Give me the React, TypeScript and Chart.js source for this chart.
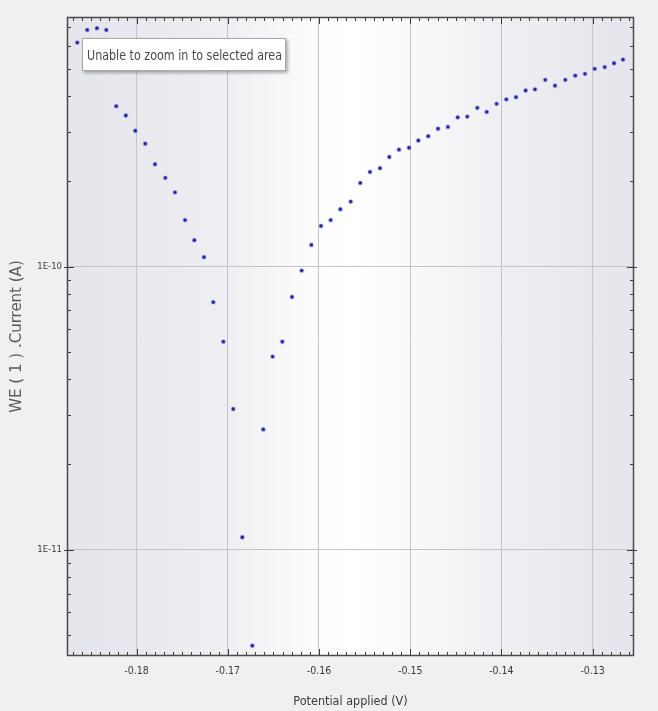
import { useEffect, useRef } from "react";
import { Chart, registerables } from "chart.js";

Chart.register(...registerables);

// Potential applied (V)
const potentialV = [
  -0.1865, -0.18541, -0.18434, -0.18332, -0.18223, -0.18118, -0.18014, -0.17905,
  -0.17798, -0.17685, -0.17579, -0.17469, -0.17367, -0.17261, -0.17159, -0.17049,
  -0.1694, -0.16841, -0.16731, -0.16611, -0.16508, -0.16402, -0.16296, -0.1619,
  -0.16084, -0.15978, -0.15872, -0.15766, -0.15652, -0.15547, -0.15441, -0.15331,
  -0.15229, -0.15123, -0.15013, -0.14911, -0.14802, -0.14695, -0.14586, -0.14479,
  -0.14374, -0.14264, -0.14161, -0.14052, -0.13946, -0.1384, -0.13734, -0.13632,
  -0.13519, -0.13412, -0.13299, -0.1319, -0.13083, -0.12977, -0.12867, -0.12765,
  -0.12667,
];

// WE(1).Current (A)
const currentA = [
  6.19e-10, 6.86e-10, 6.96e-10, 6.86e-10, 3.69e-10, 3.42e-10, 3.02e-10, 2.72e-10,
  2.3e-10, 2.06e-10, 1.83e-10, 1.46e-10, 1.24e-10, 1.08e-10, 7.49e-11, 5.43e-11,
  3.14e-11, 1.106e-11, 4.58e-12, 2.66e-11, 4.81e-11, 5.43e-11, 7.81e-11, 9.68e-11,
  1.193e-10, 1.392e-10, 1.46e-10, 1.595e-10, 1.697e-10, 1.976e-10, 2.16e-10, 2.227e-10,
  2.44e-10, 2.59e-10, 2.63e-10, 2.79e-10, 2.89e-10, 3.07e-10, 3.115e-10, 3.37e-10,
  3.39e-10, 3.64e-10, 3.52e-10, 3.76e-10, 3.9e-10, 3.97e-10, 4.19e-10, 4.23e-10,
  4.57e-10, 4.36e-10, 4.57e-10, 4.73e-10, 4.8e-10, 5.0e-10, 5.07e-10, 5.23e-10,
  5.39e-10,
];

const xTickValues = [-0.18, -0.17, -0.16, -0.15, -0.14, -0.13];
const xTickLabels = ["-0.18", "-0.17", "-0.16", "-0.15", "-0.14", "-0.13"];
const yTickValues = [1e-11, 1e-10];
const yTickLabels = ["1E-11", "1E-10"];

const X_MIN = -0.18763;
const X_MAX = -0.12546;
const Y_MIN = 4.21e-12;
const Y_MAX = 7.62e-10;

const NARROW = "'Liberation Sans Narrow', 'DejaVu Sans Condensed', 'Arial Narrow', sans-serif";

const backgroundPlugin = {
  id: "bgPlugin",
  beforeDraw(chart: any) {
    const { ctx, chartArea: a, width, height } = chart;
    ctx.save();
    ctx.fillStyle = "#f0f0f0";
    ctx.fillRect(0, 0, width, height);
    const g = ctx.createLinearGradient(a.left, 0, a.right, 0);
    g.addColorStop(0, "#e5e5ec");
    g.addColorStop(0.12, "#e8e8ee");
    g.addColorStop(0.28, "#efeff3");
    g.addColorStop(0.42, "#fbfbfb");
    g.addColorStop(0.5, "#ffffff");
    g.addColorStop(0.6, "#fafafa");
    g.addColorStop(0.76, "#efeff3");
    g.addColorStop(0.92, "#e8e8ee");
    g.addColorStop(1, "#e5e5ec");
    ctx.fillStyle = g;
    ctx.fillRect(a.left, a.top, a.right - a.left, a.bottom - a.top);
    ctx.restore();
  },
};

const ticksFramePlugin = {
  id: "ticksFrame",
  afterDraw(chart: any) {
    const { ctx, chartArea: a, scales } = chart;
    const xs = scales.x;
    const ys = scales.y;
    ctx.save();
    ctx.strokeStyle = "#3a3a3a";
    ctx.lineWidth = 1;
    ctx.beginPath();
    for (let i = -190; i <= -120; i++) {
      const v = i / 1000;
      if (v < xs.min || v > xs.max) continue;
      const px = Math.round(xs.getPixelForValue(v)) + 0.5;
      const len = i % 10 === 0 ? 7 : 4;
      ctx.moveTo(px, a.bottom);
      ctx.lineTo(px, a.bottom - len);
      ctx.moveTo(px, a.top);
      ctx.lineTo(px, a.top + len);
    }
    for (let n = -13; n <= -8; n++) {
      for (let k = 1; k <= 9; k++) {
        const v = k * Math.pow(10, n);
        if (v < ys.min || v > ys.max) continue;
        const py = Math.round(ys.getPixelForValue(v)) + 0.5;
        const major = k === 1;
        const len = major ? 7 : 4;
        ctx.moveTo(a.left - (major ? 3 : 0), py);
        ctx.lineTo(a.left + len, py);
        ctx.moveTo(a.right + (major ? 3 : 0), py);
        ctx.lineTo(a.right - len, py);
      }
    }
    ctx.stroke();
    ctx.strokeStyle = "#4a4a4a";
    ctx.lineWidth = 1.5;
    ctx.strokeRect(a.left + 0.5, a.top + 0.5, a.right - a.left - 1, a.bottom - a.top - 1);
    ctx.restore();
  },
};

export default function App() {
  const canvasRef = useRef<HTMLCanvasElement | null>(null);
  const msgRef = useRef<HTMLSpanElement | null>(null);

  useEffect(() => {
    document.body.style.margin = "0";
    const span = msgRef.current;
    if (span) {
      const w = span.getBoundingClientRect().width;
      if (w > 0) span.style.transform = `scaleX(${195 / w})`;
    }
    const canvas = canvasRef.current;
    if (!canvas) return;
    const points = potentialV.map((x, i) => ({ x, y: currentA[i] }));
    const chart = new Chart(canvas, {
      type: "scatter",
      data: {
        datasets: [
          {
            data: points,
            backgroundColor: "#222296",
            borderColor: "rgba(140,140,235,0.35)",
            borderWidth: 1.5,
            pointRadius: 1.9,
            pointHoverRadius: 1.9,
          },
        ],
      },
      options: {
        animation: false,
        responsive: false,
        maintainAspectRatio: false,
        events: [],
        layout: { padding: { top: 17, right: 24, left: 0, bottom: 0 } },
        plugins: { legend: { display: false }, tooltip: { enabled: false } },
        scales: {
          x: {
            type: "linear",
            min: X_MIN,
            max: X_MAX,
            afterBuildTicks: (scale: any) => {
              scale.ticks = xTickValues.map((v) => ({ value: v }));
            },
            afterFit: (scale: any) => {
              scale.height = 55;
            },
            ticks: {
              autoSkip: false,
              maxRotation: 0,
              padding: 9,
              color: "#3a3a3a",
              font: { family: NARROW, size: 10.5 },
              callback: (value: any) => {
                const i = xTickValues.findIndex((t) => Math.abs(t - Number(value)) < 1e-9);
                return i >= 0 ? xTickLabels[i] : "";
              },
            },
            grid: { color: "#c4c4c4", drawTicks: false, lineWidth: 1 },
            border: { display: false },
            title: {
              display: true,
              text: "Potential applied (V)",
              color: "#3a3a3a",
              font: { family: NARROW, size: 12.5 },
              padding: { top: 0, bottom: 2 },
            },
          },
          y: {
            type: "logarithmic",
            min: Y_MIN,
            max: Y_MAX,
            afterBuildTicks: (scale: any) => {
              scale.ticks = yTickValues.map((v) => ({ value: v }));
            },
            afterFit: (scale: any) => {
              scale.width = 67;
            },
            ticks: {
              autoSkip: false,
              padding: 5,
              color: "#3a3a3a",
              font: { family: NARROW, size: 9.5 },
              callback: (value: any) => {
                const i = yTickValues.findIndex((t) => Math.abs(t - Number(value)) / t < 1e-6);
                return i >= 0 ? yTickLabels[i] : "";
              },
            },
            grid: { color: "#c4c4c4", drawTicks: false, lineWidth: 1 },
            border: { display: false },
            title: {
              display: true,
              text: "WE ( 1 ) .Current (A)",
              color: "#5a5a5a",
              font: { family: "'DejaVu Sans', sans-serif", size: 15 },
              padding: { top: 8, bottom: 0 },
            },
          },
        },
      },
      plugins: [backgroundPlugin, ticksFramePlugin],
    });
    return () => chart.destroy();
  }, []);

  return (
    <div style={{ position: "relative", width: 658, height: 711, background: "#f0f0f0" }}>
      <canvas ref={canvasRef} width={658} height={711} style={{ display: "block", width: 658, height: 711 }} />
      <div
        style={{
          position: "absolute",
          left: 82,
          top: 38,
          width: 204,
          height: 33,
          background: "#ffffff",
          border: "1px solid #a8a8a8",
          boxShadow: "2px 2px 3px rgba(0,0,0,0.3)",
          fontFamily: NARROW,
          fontSize: 14,
          color: "#4a4a4a",
          lineHeight: "33px",
          paddingLeft: 4,
          boxSizing: "border-box",
          whiteSpace: "nowrap",
          overflow: "hidden",
        }}
      >
        <span ref={msgRef} style={{ display: "inline-block", transformOrigin: "left center" }}>
          Unable to zoom in to selected area
        </span>
      </div>
    </div>
  );
}
